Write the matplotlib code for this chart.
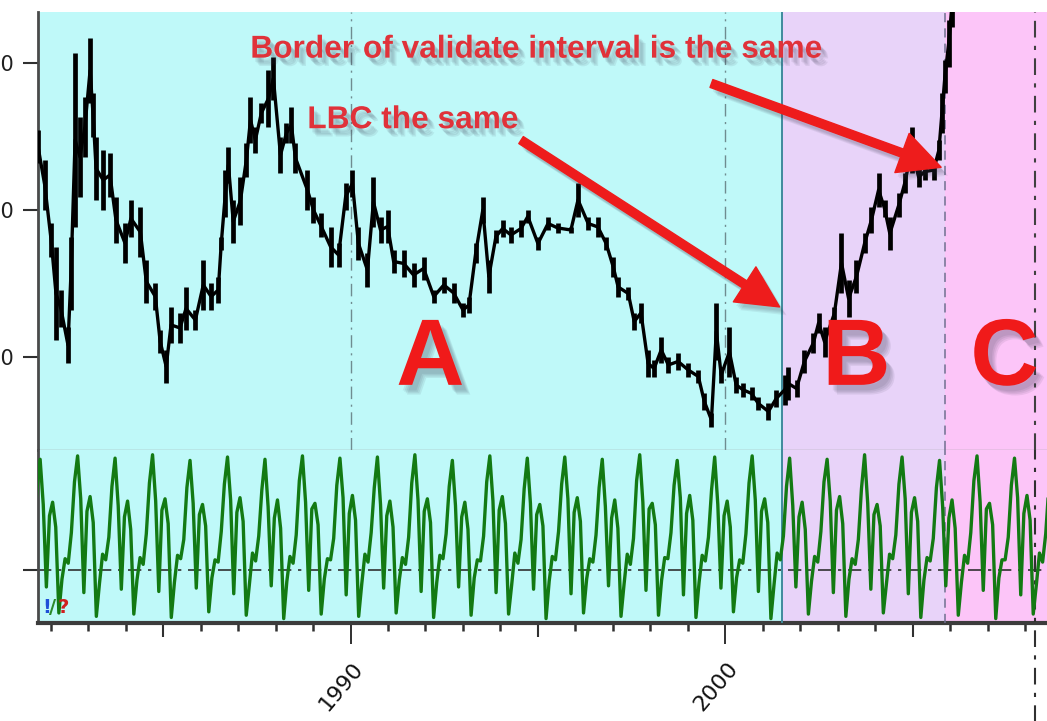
import numpy as np
import matplotlib
matplotlib.use("Agg")
import matplotlib.pyplot as plt
import matplotlib.patheffects as pe
from matplotlib.transforms import offset_copy

# ---------------- data ----------------
price_year = [1981.66, 1981.84, 1982.01, 1982.14, 1982.27, 1982.46, 1982.54, 1982.65, 1982.78, 1982.91,
              1983.05, 1983.13, 1983.21, 1983.40, 1983.58, 1983.74, 1983.98, 1984.14, 1984.39, 1984.55,
              1984.79, 1984.92, 1985.08, 1985.21, 1985.45, 1985.61, 1985.86, 1986.07, 1986.28, 1986.47,
              1986.55, 1986.66, 1986.74, 1986.87, 1987.06, 1987.22, 1987.33, 1987.46, 1987.62, 1987.81,
              1987.94, 1988.13, 1988.29, 1988.42, 1988.53, 1988.85, 1989.01, 1989.20, 1989.47, 1989.68,
              1989.87, 1990.05, 1990.21, 1990.45, 1990.61, 1990.80, 1990.99, 1991.15, 1991.42, 1991.68,
              1991.95, 1992.22, 1992.49, 1992.75, 1993.00, 1993.16, 1993.34, 1993.53, 1993.69, 1993.88,
              1994.06, 1994.28, 1994.55, 1994.73, 1995.00, 1995.27, 1995.53, 1995.88, 1996.07, 1996.34,
              1996.60, 1996.82, 1997.01, 1997.14, 1997.41, 1997.57, 1997.75, 1997.94, 1998.10, 1998.29,
              1998.48, 1998.74, 1999.01, 1999.28, 1999.44, 1999.63, 1999.76, 1999.89, 2000.11, 2000.29,
              2000.48, 2000.70, 2000.88, 2001.15, 2001.36, 2001.58, 2001.68, 2001.90, 2002.11, 2002.35,
              2002.49, 2002.65, 2002.91, 2003.10, 2003.29, 2003.50, 2003.72, 2003.90, 2004.09, 2004.25,
              2004.39, 2004.63, 2004.79, 2004.97, 2005.16, 2005.32, 2005.56, 2005.70, 2005.78, 2005.86,
              2005.96, 2006.04]
price_high = [254.3, 233.9, 191.1, 174.8, 145.5, 120.4, 181.6, 306.7, 263.2, 276.8,
              316.9, 279.5, 249.6, 240.7, 238.7, 208.8, 191.1, 206.7, 202.0, 165.9,
              150.3, 118.3, 104.7, 134.0, 129.9, 147.6, 131.9, 165.9, 150.3, 154.4,
              181.6, 227.1, 242.8, 206.7, 222.4, 245.5, 276.8, 256.4, 272.7, 295.1,
              304.0, 249.6, 259.1, 270.0, 245.5, 227.1, 208.8, 197.9, 188.4, 177.5,
              218.3, 227.1, 188.4, 170.7, 222.4, 195.2, 199.9, 172.7, 172.7, 163.9,
              168.0, 145.5, 154.4, 150.3, 136.7, 140.8, 177.5, 208.8, 165.9, 186.3,
              193.1, 188.4, 193.1, 199.9, 181.6, 195.2, 191.1, 188.4, 218.3, 195.2,
              195.2, 181.6, 168.0, 154.4, 147.6, 129.9, 136.7, 104.7, 97.9, 113.6,
              100.0, 102.7, 95.9, 91.1, 75.5, 61.9, 136.7, 93.2, 120.4, 86.4,
              82.3, 79.6, 72.8, 68.7, 77.5, 87.7, 93.2, 84.3, 104.7, 116.3,
              129.9, 120.4, 134.0, 184.3, 152.3, 165.9, 184.3, 202.0, 225.1, 206.7,
              195.2, 211.5, 225.1, 256.4, 229.1, 231.9, 233.9, 247.5, 279.5, 301.9,
              329.1, 349.5]
price_low = [231.9, 199.9, 168.0, 111.5, 120.4, 95.9, 131.9, 188.4, 208.8, 236.0,
             272.7, 249.6, 206.7, 199.9, 208.8, 177.5, 163.9, 181.6, 168.0, 136.7,
             131.9, 102.7, 82.3, 109.5, 109.5, 118.3, 118.3, 131.9, 131.9, 136.7,
             172.7, 195.2, 218.3, 177.5, 190.0, 222.4, 245.5, 238.7, 259.1, 256.4,
             275.0, 225.1, 245.5, 245.5, 225.1, 199.9, 191.1, 181.6, 161.2, 161.2,
             199.9, 208.8, 165.9, 147.6, 188.4, 177.5, 177.5, 157.1, 154.4, 147.6,
             152.3, 136.7, 143.5, 136.7, 127.2, 129.9, 163.9, 191.1, 143.5, 177.5,
             181.6, 177.5, 181.6, 191.1, 172.7, 186.3, 184.3, 184.3, 195.2, 186.3,
             181.6, 172.7, 154.4, 140.8, 138.7, 118.3, 123.1, 86.4, 86.4, 95.9,
             89.1, 91.1, 86.4, 82.3, 63.9, 52.4, 97.9, 82.3, 86.4, 75.5,
             72.8, 70.7, 63.9, 57.1, 66.0, 67.3, 70.7, 72.8, 89.1, 102.7,
             116.3, 100.0, 125.1, 143.5, 127.2, 143.5, 170.7, 184.3, 202.0, 195.2,
             172.7, 195.2, 211.5, 225.1, 215.6, 220.3, 220.3, 233.9, 252.3, 279.5,
             297.2, 324.4]

# monthly oscillator readings, one row per cycle (first value at osc_start)
osc_start = 1981.55
osc_step = 1.0 / 12.0
osc_rows = [
    [28, 72, 98, 58, -15, 48, 60, 38, -38, -8, 10, 6],
    [33, 78, 101, 63, -20, 52, 65, 42, -41, -12, 14, 9],
    [29, 74, 99, 57, -17, 47, 61, 36, -39, -9, 11, 5],
    [32, 77, 102, 61, -19, 53, 63, 41, -42, -11, 13, 10],
    [27, 73, 97, 59, -16, 49, 58, 39, -37, -7, 9, 7],
    [34, 76, 100, 62, -21, 51, 64, 43, -40, -13, 15, 8],
    [30, 71, 98, 56, -14, 46, 62, 37, -43, -10, 12, 6],
    [31, 79, 101, 60, -18, 54, 59, 40, -39, -8, 10, 9],
    [28, 75, 99, 64, -22, 50, 66, 44, -41, -12, 14, 7],
    [33, 73, 100, 58, -16, 48, 61, 38, -38, -9, 11, 5],
    [29, 77, 102, 62, -19, 52, 63, 42, -42, -11, 13, 10],
    [32, 74, 97, 57, -15, 47, 60, 36, -40, -7, 9, 8],
    [30, 78, 101, 61, -20, 53, 65, 41, -39, -13, 15, 6],
    [27, 72, 99, 59, -17, 49, 58, 39, -43, -10, 12, 9],
    [34, 76, 100, 63, -21, 51, 64, 43, -38, -8, 10, 7],
    [31, 73, 98, 56, -14, 46, 62, 37, -41, -12, 14, 5],
    [28, 79, 102, 60, -18, 54, 59, 40, -40, -9, 11, 10],
    [33, 75, 97, 64, -22, 50, 66, 44, -42, -11, 13, 8],
    [29, 71, 100, 58, -16, 48, 61, 38, -37, -7, 9, 6],
    [32, 77, 101, 62, -19, 52, 63, 42, -43, -13, 15, 9],
    [30, 74, 99, 57, -15, 47, 60, 36, -39, -10, 12, 7],
    [34, 78, 98, 61, -20, 53, 65, 41, -41, -8, 10, 5],
    [27, 72, 102, 59, -17, 49, 58, 39, -38, -12, 14, 10],
    [31, 76, 100, 63, -21, 51, 64, 43, -42, -9, 11, 8],
    [28, 73, 97, 56, -14, 46, 62, 37, -40, -11, 13, 6],
    [33, 79, 101, 60, -18, 54, 59, 40, -43, -7, 9, 9],
    [29, 75, 99, 64, -22, 50, 66, 44, -39, -13, 15, 7],
    [32, 74, 100, 58, -16, 48, 61, 38, -41, -10, 12, 5],
]

region_edges = [1981.66, 2001.52, 2005.86, 2008.64]
region_labels = ["A", "B", "C"]
region_colors = ["#bff9f9", "#e8d3f9", "#fcc5f8"]
label_years = [1990, 2000]
long_tick_years = [1985, 1995, 2005]
grid_years = [1990, 2000]
bc_border = 2005.86
forecast_line = 2008.26
price_ticks = [100, 200, 300]
price_tick_labels = ["100", "200", "300"]

# ---------------- figure ----------------
W, H = 1047, 721
fig = plt.figure(figsize=(W / 100, H / 100), dpi=100)
fig.patch.set_facecolor("white")


def fx(px):
    return px / W


def fy(py):
    return 1 - py / H


def blur_shadow(dx, dy, alpha):
    effs = []
    for k in range(4):
        effs.append(pe.SimplePatchShadow(offset=(dx + k, dy - k), shadow_rgbFace="#3a3a50",
                                         alpha=alpha))
    effs.append(pe.Normal())
    return effs


ax = fig.add_axes([fx(38), fy(450), 1 - fx(38) + 0.002, fy(12) - fy(450)])
axl = fig.add_axes([fx(38), fy(623), 1 - fx(38) + 0.002, fy(450) - fy(623)], sharex=ax)

for a in (ax, axl):
    for x0, x1, c in zip(region_edges[:-1], region_edges[1:], region_colors):
        a.axvspan(x0, x1, color=c, lw=0, zorder=0)
    a.set_xlim(region_edges[0], region_edges[-1])
    a.spines["right"].set_visible(False)
    a.spines["left"].set_color("#4a4a4a")
    a.spines["left"].set_linewidth(2)
    a.axvline(region_edges[1], color="#3f8a9c", lw=1.4, zorder=3)
    a.axvline(bc_border, color="#707090", lw=1.1, ls=(0, (6, 4)), zorder=3)

ax.spines["top"].set_visible(False)
ax.spines["bottom"].set_color("#a0a0a0")
ax.spines["bottom"].set_linewidth(1.0)
axl.spines["top"].set_visible(False)
axl.spines["bottom"].set_color("#3c3c3c")
axl.spines["bottom"].set_linewidth(3.0)

for g in grid_years:
    ax.axvline(g, color="#6f8c90", lw=1.0, ls=(0, (9, 4, 1.5, 4)), zorder=1)
ax.axvline(forecast_line, color="#404040", lw=1.5, ls=(0, (8, 4, 2, 4)), zorder=3)
axl.axvline(forecast_line, ymin=-0.57, ymax=1, color="#303030", lw=1.5,
            ls=(0, (8, 4, 2, 4)), zorder=3, clip_on=False)

# price
py_year = np.array(price_year)
ph = np.array(price_high)
pl = np.array(price_low)
ax.vlines(py_year, pl, ph, color="black", lw=3.4, zorder=4)
ax.plot(py_year, (ph + pl) / 2, color="black", lw=2.4, zorder=4)
ax.set_ylim(36.7, 334.6)
ax.set_yticks(price_ticks)
ax.set_yticklabels(price_tick_labels, fontsize=15, color="#202020")
ax.tick_params(axis="y", length=11, width=1.5, color="#303030", pad=6)
ax.tick_params(axis="x", bottom=False, labelbottom=False)

# oscillator
osc_values = np.concatenate([np.array(r, dtype=float) for r in osc_rows])
osc_t = osc_start + osc_step * np.arange(len(osc_values))
axl.plot(osc_t, osc_values, color="#137a13", lw=2.4, zorder=4)
axl.axhline(0, color="#303030", lw=1.2, ls=(0, (8, 4, 2, 4)), zorder=2)
axl.set_ylim(-46.9, 106.2)
axl.set_yticks([0])
axl.set_yticklabels([""])
axl.tick_params(axis="y", length=11, width=1.5, color="#303030")

# x ticks
major = sorted(label_years + long_tick_years)
axl.set_xticks(major)
axl.set_xticklabels([""] * len(major))
axl.set_xticks(np.arange(1982, 2009), minor=True)
axl.tick_params(axis="x", which="major", length=15, width=1.5, color="#303030")
axl.tick_params(axis="x", which="minor", length=6, width=1.8, color="#303030")
for t, yr in zip(axl.xaxis.get_major_ticks(), major):
    if yr in label_years:
        t.tick1line.set_color("#d04a5a")
        t.tick1line.set_markeredgewidth(1.4)
    else:
        t.tick1line.set_markersize(10)

lab_tr = offset_copy(axl.get_xaxis_transform(), fig=fig, x=9, y=0, units="dots")
for yr in label_years:
    axl.text(yr, -0.24, str(yr), transform=lab_tr, rotation=50, rotation_mode="anchor",
             ha="right", va="center", fontsize=16, color="#111111",
             family="DejaVu Sans")

# !/? marker
axl.text(0.004, 0.055, "!", transform=axl.transAxes, color="#1d4fd8", fontsize=14,
         fontweight="bold", zorder=6)
axl.text(0.011, 0.055, "/", transform=axl.transAxes, color="#2a8a2a", fontsize=14,
         fontweight="bold", zorder=6)
axl.text(0.019, 0.055, "?", transform=axl.transAxes, color="#d02020", fontsize=14,
         fontweight="bold", zorder=6)

# annotations
ax.text(1994.95, 309, "Border of validate interval is the same", fontsize=22.8,
        fontweight="bold", color="#e0323a", family="Liberation Sans", ha="center",
        va="center", path_effects=blur_shadow(2, -3, 0.09), zorder=7)
ax.text(1991.66, 261, "LBC the same", fontsize=22.8, fontweight="bold", color="#e0323a",
        family="Liberation Sans", ha="center", va="center",
        path_effects=blur_shadow(2, -3, 0.09), zorder=7)

arrow_kw = dict(arrowstyle="simple,head_length=1.5,head_width=1.5,tail_width=0.3",
                mutation_scale=20, color="#ee1c1c", shrinkA=0, shrinkB=0,
                path_effects=blur_shadow(2, -3, 0.08))
ax.annotate("", xy=(2001.45, 134), xytext=(1994.55, 247.5), arrowprops=arrow_kw, zorder=7)
ax.annotate("", xy=(2005.76, 229), xytext=(1999.63, 286), arrowprops=arrow_kw, zorder=7)

letter_x = [1992.13, 2003.50, 2007.45]
for lx, lt in zip(letter_x, region_labels):
    ax.text(lx, 81, lt, fontsize=68, fontweight="bold", color="#f01a1a",
            family="Liberation Sans", ha="center", va="baseline",
            path_effects=blur_shadow(3, -4, 0.09), zorder=7)

fig.savefig("out.png", dpi=100)
